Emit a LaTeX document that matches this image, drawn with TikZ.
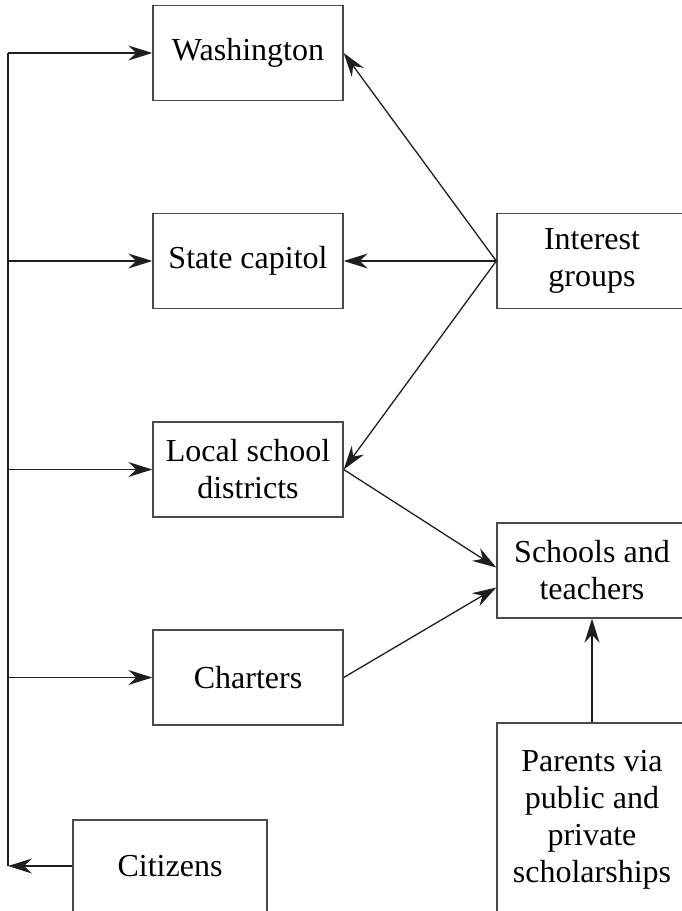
\documentclass[tikz,border=0pt]{standalone}
\usepackage{fontspec}
\setmainfont{Liberation Serif}
\usetikzlibrary{arrows.meta}
\definecolor{boxgray}{HTML}{4A4A4A}
\definecolor{linecol}{HTML}{1E1E1E}
\tikzset{
  box/.style={draw=boxgray, line width=1.4pt, minimum width=190pt, minimum height=95pt,
    align=center, inner sep=0pt, font=\fontsize{32}{37}\selectfont},
  arr/.style={draw=linecol, line width=1.3pt,
    -{Stealth[length=24pt,width=15pt,inset=8pt]}},
  plain/.style={draw=linecol, line width=1.3pt}
}
\begin{document}
\begin{tikzpicture}[x=1pt,y=-1pt]
\clip (0,0) rectangle (682,911);
\node[box] (wash) at (248,53) {Washington};
\node[box] (state) at (248,261) {State capitol};
\node[box] (local) at (248,469.5) {Local school\\districts};
\node[box] (charters) at (248,677.5) {Charters};
\node[box] (interest) at (592,261) {Interest\\groups};
\node[box] (schools) at (592,570.5) {Schools and\\teachers};
\node[box, minimum height=194pt] (parents) at (592,820)
  {Parents via\\public and\\private\\scholarships};
\node[box, minimum width=194pt, minimum height=92pt] (citizens) at (170,866) {Citizens};
\coordinate (spine) at (8,0);
% left spine
\draw[arr] (citizens.west) -- (citizens.west -| spine);
\draw[plain] (citizens.west -| spine) -- (wash.west -| spine);
\draw[arr] (wash.west -| spine) -- (wash.west);
\draw[arr] (state.west -| spine) -- (state.west);
\draw[arr] (local.west -| spine) -- (local.west);
\draw[arr] (charters.west -| spine) -- (charters.west);
% interest groups
\draw[arr] (interest.west) -- (wash.east);
\draw[arr] (interest.west) -- (state.east);
\draw[arr] (interest.west) -- (local.east);
% to schools
\draw[arr] (local.east) -- ([yshift=3pt]schools.west);
\draw[arr] (charters.east) -- ([yshift=-17pt]schools.west);
\draw[arr] (parents.north) -- (schools.south);
\end{tikzpicture}
\end{document}
